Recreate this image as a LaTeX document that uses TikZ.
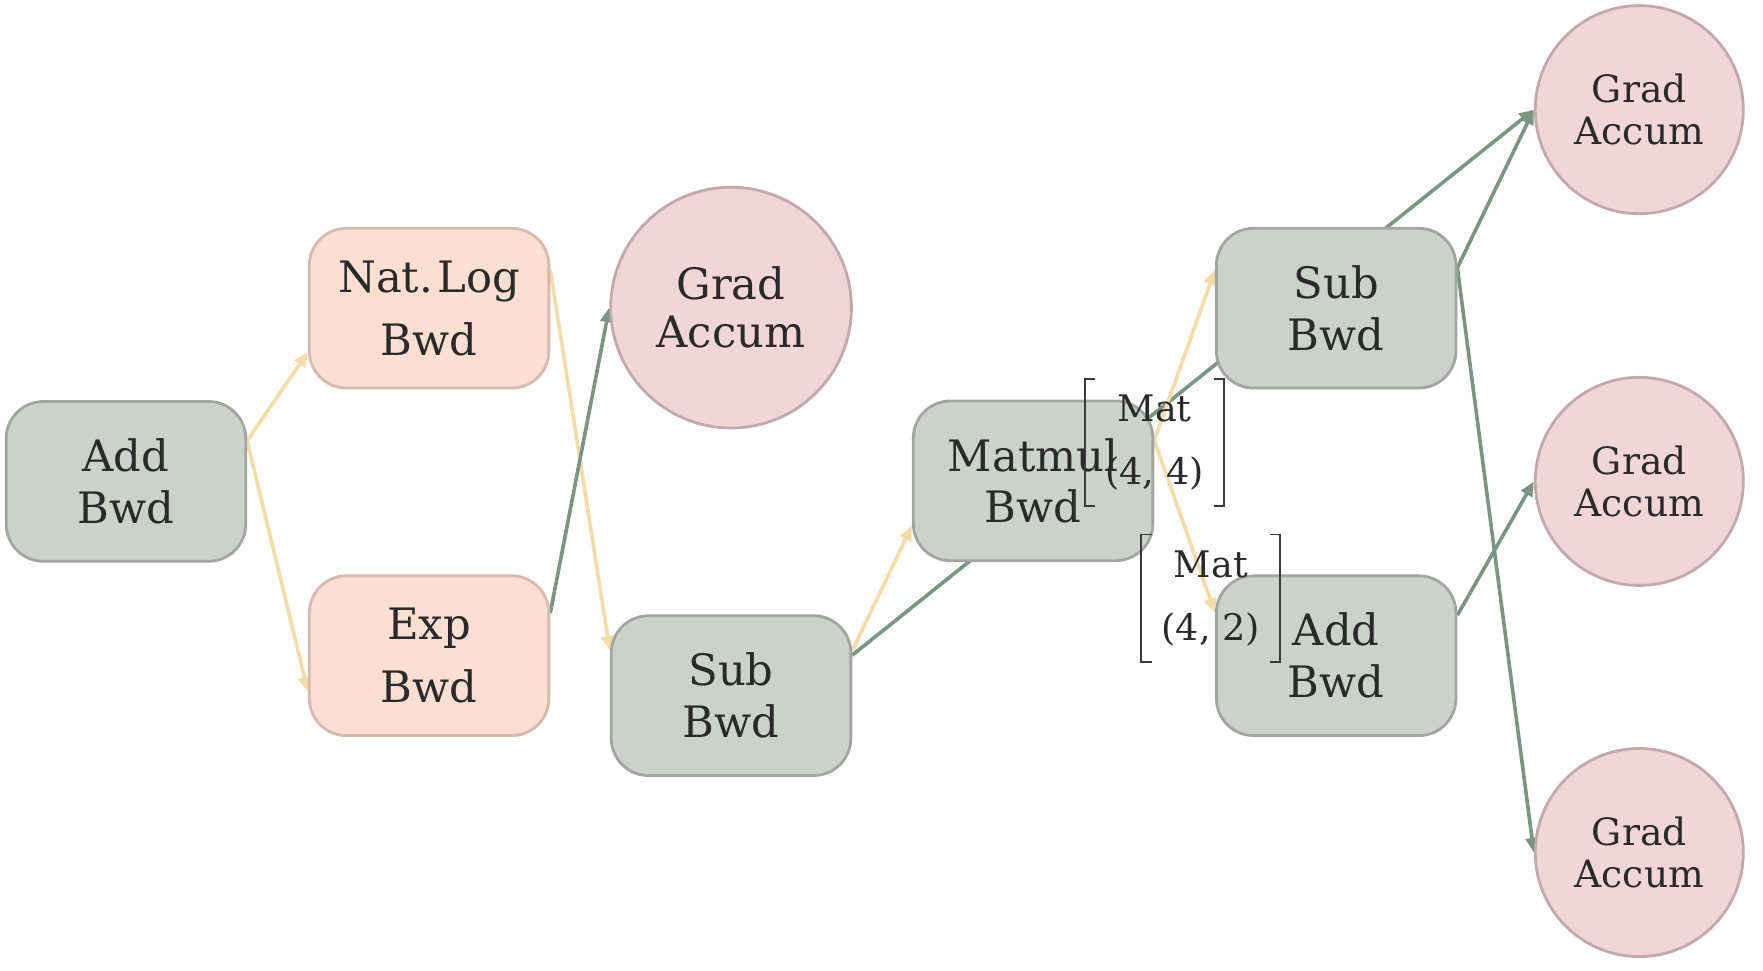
\documentclass[tikz,border=0pt]{standalone}
\usepackage{fontspec}
\setmainfont{DejaVu Serif}
\usetikzlibrary{arrows.meta}
\definecolor{boxg}{HTML}{CDD1CC}
\definecolor{boxgb}{HTML}{A2A5A1}
\definecolor{boxp}{HTML}{FBDFD1}
\definecolor{boxpb}{HTML}{D7B9AE}
\definecolor{circf}{HTML}{F0D5D9}
\definecolor{circb}{HTML}{C3A8AE}
\definecolor{edgey}{HTML}{F3DCA7}
\definecolor{edgeg}{HTML}{7B9584}
\definecolor{txt}{HTML}{2A2A2A}
\definecolor{brkc}{HTML}{3A3A3A}
\pgfdeclarelayer{bg}
\pgfsetlayers{bg,main}
\begin{document}
\begin{tikzpicture}[x=1pt,y=-1pt,
  basebox/.style={line width=2.5pt, rounded corners=33pt, minimum width=213pt, minimum height=142pt, inner sep=0pt, align=center, text=txt},
  gbox/.style={basebox, draw=boxgb, fill=boxg, font=\fontsize{38.5pt}{46pt}\selectfont},
  pbox/.style={basebox, draw=boxpb, fill=boxp, font=\fontsize{38.5pt}{56pt}\selectfont},
  gbig/.style={circle, draw=circb, fill=circf, line width=2.5pt, minimum size=214pt, inner sep=0pt, align=center, text=txt, font=\fontsize{38.5pt}{43pt}\selectfont},
  gsmall/.style={circle, draw=circb, fill=circf, line width=2.5pt, minimum size=185pt, inner sep=0pt, align=center, text=txt, font=\fontsize{33.5pt}{37pt}\selectfont},
  lbl/.style={minimum width=123pt, minimum height=113pt, inner sep=0pt, align=center, text=txt, font=\fontsize{32.5pt}{56pt}\selectfont},
  brk/.style={draw=brkc, line width=1.6pt},
  yedge/.style={draw=edgey, line width=3.2pt, -{Triangle[length=13pt,width=11pt]}},
  gedge/.style={draw=edgeg, line width=3.2pt, -{Triangle[length=13pt,width=11pt]}}
]
\useasboundingbox (0,0) rectangle (1567.5,863.3);

\node[gbox] (add1) at (112,428) {Add\\Bwd};
\node[pbox] (nat) at (381.5,274) {Nat.\hspace{0.1em}Log\\Bwd};
\node[pbox] (exp) at (381.5,583) {Exp\\Bwd};
\node[gbig] (ga1) at (650,273.5) {Grad\\Accum};
\node[gbox] (sub1) at (650,618.5) {Sub\\Bwd};
\node[gbox] (mat) at (918.5,427.5) {Matmul\\Bwd};
\node[gbox] (sub2) at (1188,274) {Sub\\Bwd};
\node[gbox] (add2) at (1188,583) {Add\\Bwd};
\node[gsmall] (ga2) at (1457.5,97.5) {Grad\\Accum};
\node[gsmall] (ga3) at (1457.5,428) {Grad\\Accum};
\node[gsmall] (ga4) at (1457.5,758) {Grad\\Accum};

\begin{pgfonlayer}{bg}
\draw[yedge] ([yshift=36pt]add1.east) -- ([yshift=-39pt]nat.west);
\draw[yedge] ([yshift=36pt]add1.east) -- ([yshift=-32pt]exp.west);
\draw[yedge] ([yshift=34pt]nat.east) -- ([yshift=40pt]sub1.west);
\draw[gedge] ([yshift=38pt]exp.east) -- (ga1.west);
\draw[yedge] ([yshift=40pt]sub1.east) -- ([yshift=-40pt]mat.west);
\draw[gedge] ([yshift=36pt]sub1.east) -- (ga2.west);
\draw[yedge] ([yshift=36pt]mat.east) -- ([yshift=34pt]sub2.west);
\draw[yedge] ([yshift=36pt]mat.east) -- ([yshift=38pt]add2.west);
\draw[gedge] ([yshift=36pt]sub2.east) -- (ga2.west);
\draw[gedge] ([yshift=36pt]sub2.east) -- (ga4.west);
\draw[gedge] ([yshift=36pt]add2.east) -- (ga3.west);
\end{pgfonlayer}

\node[lbl] (l1) at (1026.5,393.5) {Mat\\(4, 4)};
\node[lbl] (l2) at (1076.5,532) {Mat\\(4, 2)};
\draw[brk] ([xshift=9pt]l1.north west) -- (l1.north west) -- (l1.south west) -- ([xshift=9pt]l1.south west);
\draw[brk] ([xshift=-9pt]l1.north east) -- (l1.north east) -- (l1.south east) -- ([xshift=-9pt]l1.south east);
\draw[brk] ([xshift=9pt]l2.north west) -- (l2.north west) -- (l2.south west) -- ([xshift=9pt]l2.south west);
\draw[brk] ([xshift=-9pt]l2.north east) -- (l2.north east) -- (l2.south east) -- ([xshift=-9pt]l2.south east);
\end{tikzpicture}
\end{document}
